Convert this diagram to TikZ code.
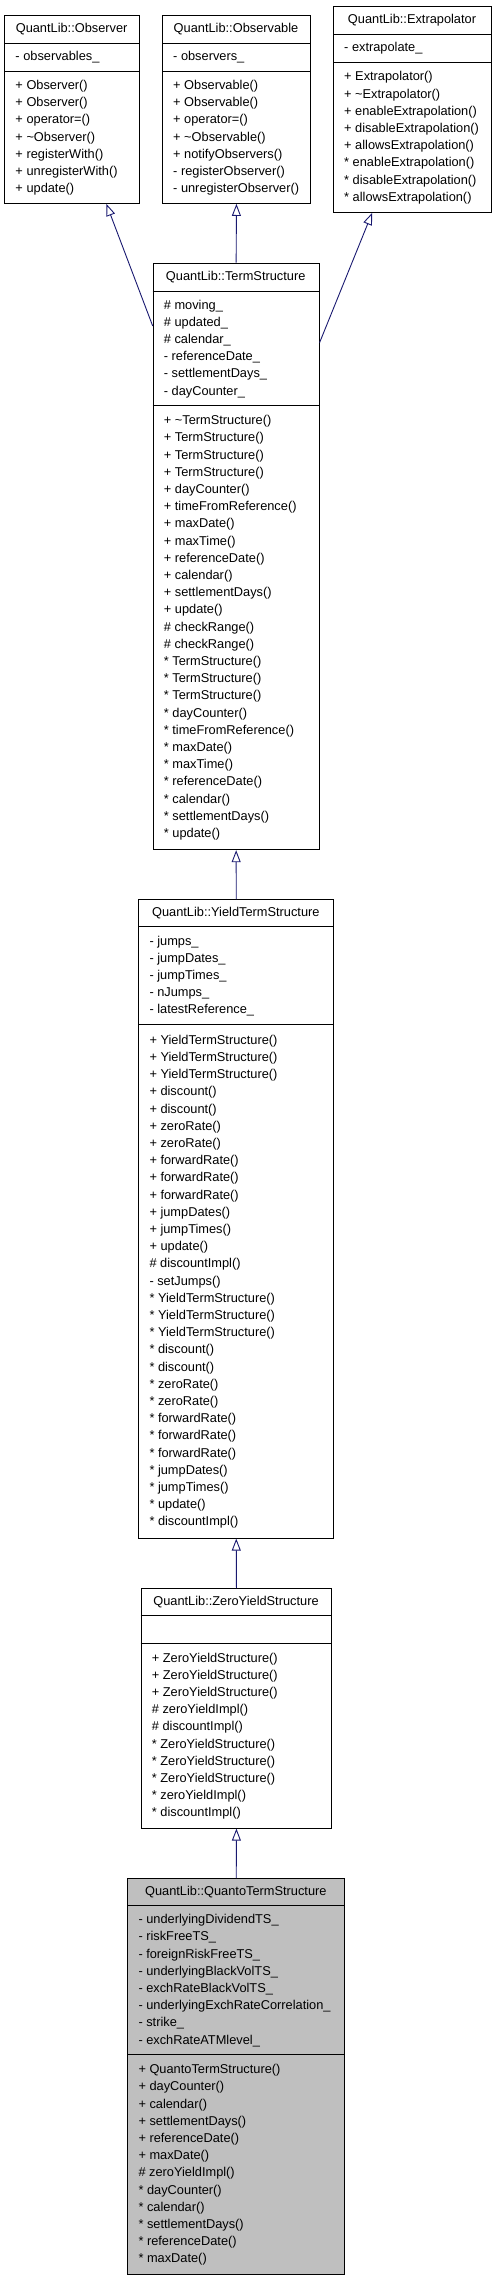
\documentclass[tikz,border=0pt]{standalone}
\usepackage{fontspec}
\setmainfont{Liberation Sans}
\usetikzlibrary{arrows.meta}
\definecolor{edgeblue}{RGB}{25,25,112}
\definecolor{hlgray}{RGB}{191,191,191}
\newcommand{\ls}{\rule[-4.6pt]{0pt}{17.2pt}}
\tikzset{
  classbox/.style={draw=black, line width=0.9pt, inner sep=0pt, anchor=north west},
  sepline/.style={draw=black, line width=0.9pt},
  titletext/.style={inner sep=0pt, font=\fontsize{12.8}{17.2}\selectfont},
  sectext/.style={inner sep=0pt, align=left, anchor=west, font=\fontsize{12.8}{17.2}\selectfont},
  inherit/.style={draw=edgeblue, line width=0.9pt, -{Triangle[open,length=12pt,width=9pt]}}
}
% name, left, right, top, line1, line2, bottom, fill, title
\newcommand{\umlclass}[9]{%
  \node[classbox, fill=#8, minimum width={(#3-#2)*1pt}, minimum height={(#7-#4)*1pt}] (#1) at (#2,#4) {};
  \draw[sepline] (#2,#5) -- (#3,#5);
  \draw[sepline] (#2,#6) -- (#3,#6);
  \node[titletext] (#1-title) at ({(#2+#3)/2},{(#4+#5)/2}) {#9};
}
% name, left, sectop, secbottom, lines
\newcommand{\umlsec}[5]{%
  \node[sectext] (#1) at ({#2+11},{(#3+#4)/2}) {#5};
}
\begin{document}
\begin{tikzpicture}[x=1pt,y=-1pt]
\useasboundingbox (0,0) rectangle (496,2280);

% Observer
\umlclass{Obs}{4.3}{139}{15}{43}{71}{203}{white}{QuantLib::Observer}
\umlsec{Obs-attr}{4.3}{43}{71}{\ls- observables\_}
\umlsec{Obs-ops}{4.3}{71}{203}{\ls+ Observer()\\\ls+ Observer()\\\ls+ operator=()\\\ls+ \textasciitilde Observer()\\\ls+ registerWith()\\\ls+ unregisterWith()\\\ls+ update()}

% Observable
\umlclass{Obsv}{162}{310}{15}{43}{71}{203}{white}{QuantLib::Observable}
\umlsec{Obsv-attr}{162}{43}{71}{\ls- observers\_}
\umlsec{Obsv-ops}{162}{71}{203}{\ls+ Observable()\\\ls+ Observable()\\\ls+ operator=()\\\ls+ \textasciitilde Observable()\\\ls+ notifyObservers()\\\ls- registerObserver()\\\ls- unregisterObserver()}

% Extrapolator
\umlclass{Ext}{333}{491}{6}{34}{62}{212}{white}{QuantLib::Extrapolator}
\umlsec{Ext-attr}{333}{34}{62}{\ls- extrapolate\_}
\umlsec{Ext-ops}{333}{62}{212}{\ls+ Extrapolator()\\\ls+ \textasciitilde Extrapolator()\\\ls+ enableExtrapolation()\\\ls+ disableExtrapolation()\\\ls+ allowsExtrapolation()\\\ls* enableExtrapolation()\\\ls* disableExtrapolation()\\\ls* allowsExtrapolation()}

% TermStructure
\umlclass{TS}{152.7}{318.7}{262.7}{291}{405}{849.3}{white}{QuantLib::TermStructure}
\umlsec{TS-attr}{152.7}{291}{405}{\ls\# moving\_\\\ls\# updated\_\\\ls\# calendar\_\\\ls- referenceDate\_\\\ls- settlementDays\_\\\ls- dayCounter\_}
\umlsec{TS-ops}{152.7}{405}{849.3}{\ls+ \textasciitilde TermStructure()\\\ls+ TermStructure()\\\ls+ TermStructure()\\\ls+ TermStructure()\\\ls+ dayCounter()\\\ls+ timeFromReference()\\\ls+ maxDate()\\\ls+ maxTime()\\\ls+ referenceDate()\\\ls+ calendar()\\\ls+ settlementDays()\\\ls+ update()\\\ls\# checkRange()\\\ls\# checkRange()\\\ls* TermStructure()\\\ls* TermStructure()\\\ls* TermStructure()\\\ls* dayCounter()\\\ls* timeFromReference()\\\ls* maxDate()\\\ls* maxTime()\\\ls* referenceDate()\\\ls* calendar()\\\ls* settlementDays()\\\ls* update()}

% YieldTermStructure
\umlclass{YTS}{138.3}{333.3}{899.3}{926.7}{1024.3}{1537.7}{white}{QuantLib::YieldTermStructure}
\umlsec{YTS-attr}{138.3}{926.7}{1024.3}{\ls- jumps\_\\\ls- jumpDates\_\\\ls- jumpTimes\_\\\ls- nJumps\_\\\ls- latestReference\_}
\umlsec{YTS-ops}{138.3}{1024.3}{1537.7}{\ls+ YieldTermStructure()\\\ls+ YieldTermStructure()\\\ls+ YieldTermStructure()\\\ls+ discount()\\\ls+ discount()\\\ls+ zeroRate()\\\ls+ zeroRate()\\\ls+ forwardRate()\\\ls+ forwardRate()\\\ls+ forwardRate()\\\ls+ jumpDates()\\\ls+ jumpTimes()\\\ls+ update()\\\ls\# discountImpl()\\\ls- setJumps()\\\ls* YieldTermStructure()\\\ls* YieldTermStructure()\\\ls* YieldTermStructure()\\\ls* discount()\\\ls* discount()\\\ls* zeroRate()\\\ls* zeroRate()\\\ls* forwardRate()\\\ls* forwardRate()\\\ls* forwardRate()\\\ls* jumpDates()\\\ls* jumpTimes()\\\ls* update()\\\ls* discountImpl()}

% ZeroYieldStructure
\umlclass{ZYS}{140.7}{331.3}{1588}{1615.3}{1643.3}{1827.7}{white}{QuantLib::ZeroYieldStructure}
\umlsec{ZYS-ops}{140.7}{1643.3}{1827.7}{\ls+ ZeroYieldStructure()\\\ls+ ZeroYieldStructure()\\\ls+ ZeroYieldStructure()\\\ls\# zeroYieldImpl()\\\ls\# discountImpl()\\\ls* ZeroYieldStructure()\\\ls* ZeroYieldStructure()\\\ls* ZeroYieldStructure()\\\ls* zeroYieldImpl()\\\ls* discountImpl()}

% QuantoTermStructure
\umlclass{QTS}{127.3}{344.3}{1878}{1905.3}{2054.3}{2274.3}{hlgray}{QuantLib::QuantoTermStructure}
\umlsec{QTS-attr}{127.3}{1905.3}{2054.3}{\ls- underlyingDividendTS\_\\\ls- riskFreeTS\_\\\ls- foreignRiskFreeTS\_\\\ls- underlyingBlackVolTS\_\\\ls- exchRateBlackVolTS\_\\\ls- underlyingExchRateCorrelation\_\\\ls- strike\_\\\ls- exchRateATMlevel\_}
\umlsec{QTS-ops}{127.3}{2054.3}{2274.3}{\ls+ QuantoTermStructure()\\\ls+ dayCounter()\\\ls+ calendar()\\\ls+ settlementDays()\\\ls+ referenceDate()\\\ls+ maxDate()\\\ls\# zeroYieldImpl()\\\ls* dayCounter()\\\ls* calendar()\\\ls* settlementDays()\\\ls* referenceDate()\\\ls* maxDate()}

% inheritance
\draw[inherit] ([yshift=-63.3pt]TS.north west) -- ([xshift=34.3pt]Obs.south);
\draw[inherit] (TS.north) -- (Obsv.south);
\draw[inherit] ([yshift=-79.9pt]TS.north east) -- ([xshift=-40.3pt]Ext.south);
\draw[inherit] (YTS.north) -- (TS.south);
\draw[inherit] (ZYS.north) -- (YTS.south);
\draw[inherit] (QTS.north) -- (ZYS.south);
\end{tikzpicture}
\end{document}
